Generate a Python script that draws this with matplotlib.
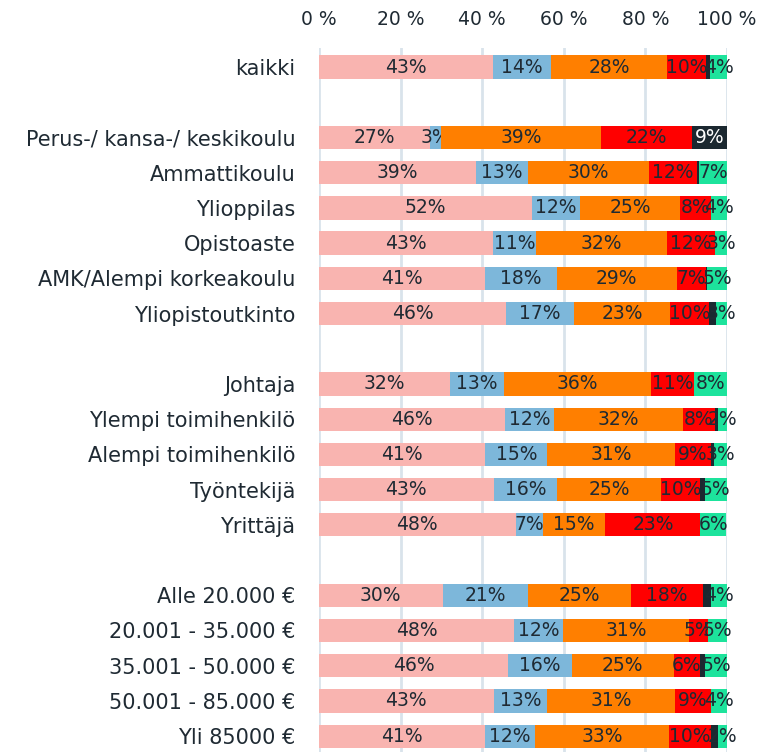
import numpy as np
import matplotlib
matplotlib.use("Agg")
import matplotlib.pyplot as plt
from matplotlib.ticker import FuncFormatter

plt.rcParams['font.family'] = ['DejaVu Sans']

categories = ["kaikki", "",
              "Perus-/ kansa-/ keskikoulu", "Ammattikoulu", "Ylioppilas",
              "Opistoaste", "AMK/Alempi korkeakoulu", "Yliopistoutkinto", "",
              "Johtaja", "Ylempi toimihenkilö", "Alempi toimihenkilö",
              "Työntekijä", "Yrittäjä", "",
              "Alle 20.000 €", "20.001 - 35.000 €", "35.001 - 50.000 €",
              "50.001 - 85.000 €", "Yli 85000 €"]

# shares per row, in order: pink, blue, orange, red, dark, green
pink   = [42.6, 0, 27.1, 38.6, 52.2, 42.6, 40.8, 45.8, 0, 32.1, 45.6, 40.7, 42.8, 48.2, 0, 30.3, 47.8, 46.4, 42.8, 40.7]
blue   = [14.3, 0, 2.9, 12.6, 11.7, 10.6, 17.5, 16.8, 0, 13.3, 12.0, 15.3, 15.6, 6.6, 0, 20.9, 12.0, 15.6, 13.2, 12.3]
orange = [28.4, 0, 39.2, 29.8, 24.7, 32.1, 29.4, 23.4, 0, 36.0, 31.6, 31.3, 25.4, 15.4, 0, 25.2, 30.8, 24.9, 31.3, 32.7]
red    = [9.6, 0, 22.1, 11.6, 7.5, 11.8, 7.2, 9.6, 0, 10.6, 7.9, 8.8, 9.6, 23.3, 0, 17.8, 4.8, 6.4, 8.8, 10.3]
dark   = [1.0, 0, 8.7, 0.5, 0, 0, 0.2, 1.7, 0, 0, 0.8, 0.6, 1.2, 0, 0, 2.0, 0, 1.4, 0, 1.9]
green  = [4.1, 0, 0, 6.9, 3.9, 2.9, 4.9, 2.6, 0, 8.0, 2.0, 3.3, 5.3, 6.3, 0, 3.7, 4.6, 5.3, 3.8, 2.0]

series = [pink, blue, orange, red, dark, green]
colors = ["#f9b4b0", "#7db7da", "#ff7f00", "#ff0000", "#1b2830", "#1de39c"]
text_colors = ["#1f2a33"] * 4 + ["white", "#1f2a33"]
min_label = [1.5, 1.5, 1.5, 1.5, 5, 1.5]
tick_vals = [0, 20, 40, 60, 80, 100]

fig = plt.figure(figsize=(7.57, 7.52), dpi=100)
ax = fig.add_axes([319 / 757, 0, 408 / 757, 704 / 752])

y = np.arange(len(categories))
left = np.zeros(len(categories))
for i, (vals, col, tcol) in enumerate(zip(series, colors, text_colors)):
    vals = np.array(vals)
    # each series drawn above the labels of the previous one
    ax.barh(y, vals, left=left, height=0.66, color=col, zorder=3 + 2 * i)
    for yi, (l, v) in enumerate(zip(left, vals)):
        if v >= min_label[i]:
            ax.text(l + v / 2, yi, f"{v:.0f}%", ha="center", va="center",
                    fontsize=13.5, color=tcol, zorder=4 + 2 * i)
    left += vals

ax.set_xlim(0, 100)
ax.set_ylim(19.45, -0.54)
ax.set_yticks(y)
ax.set_yticklabels(categories, fontsize=15, color="#1f2a33")
ax.set_xticks(tick_vals)
ax.xaxis.set_major_formatter(FuncFormatter(lambda v, p: f"{v:.0f} %"))
ax.xaxis.tick_top()
ax.tick_params(axis="x", length=0, pad=14, labelsize=13.5, labelcolor="#1f2a33")
ax.tick_params(axis="y", length=0, pad=17)
ax.grid(axis="x", color="#d9e3eb", linewidth=2, zorder=0)
for s in ax.spines.values():
    s.set_visible(False)

fig.savefig("out.png", dpi=100)
